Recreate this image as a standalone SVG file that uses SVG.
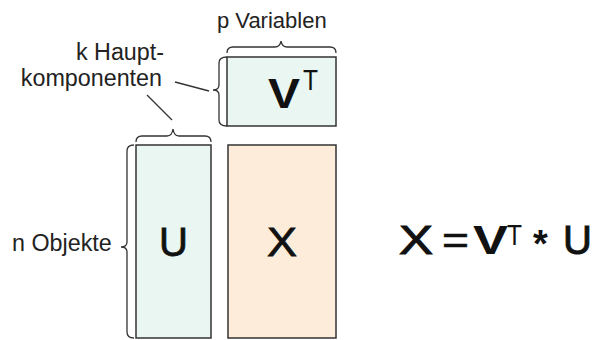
<svg xmlns="http://www.w3.org/2000/svg" width="597" height="340" viewBox="0 0 597 340">
<style>
.lbl{font-family:"Liberation Sans",Arial,sans-serif;font-size:22px;fill:#222}
.lbl2{font-size:23.3px}
.big{font-family:"Liberation Sans",Arial,sans-serif;font-size:40px;fill:#111}
.bold{font-weight:bold}
.box{stroke:#333;stroke-width:1.5}
.mint{fill:#e9f6f2}
.peach{fill:#fdecd9}
.br{fill:none;stroke:#333;stroke-width:1.3}
</style>
<rect width="597" height="340" fill="#fff"/>
<g id="vt">
<rect class="box mint" x="227" y="57" width="109" height="69"/>
<text class="big bold" x="268" y="108" style="font-size:43px" textLength="32" lengthAdjust="spacingAndGlyphs">V</text>
<text class="big" x="303" y="90" style="font-size:29px" textLength="15" lengthAdjust="spacingAndGlyphs">T</text>
</g>
<g id="u">
<rect class="box mint" x="136" y="145" width="75" height="193"/>
<text class="big" x="159" y="256" stroke="#111" stroke-width="0.8">U</text>
</g>
<g id="x">
<rect class="box peach" x="228" y="145" width="108" height="193"/>
<text class="big" x="267" y="256" textLength="30" lengthAdjust="spacingAndGlyphs" stroke="#111" stroke-width="0.8">X</text>
</g>
<g id="labels">
<text class="lbl" x="217" y="28">p Variablen</text>
<text class="lbl lbl2" x="164" y="60" text-anchor="end">k Haupt-</text>
<text class="lbl lbl2" x="162" y="86" text-anchor="end">komponenten</text>
<text class="lbl lbl2" x="12" y="251">n Objekte</text>
</g>
<g id="equation">
<text class="big" x="399" y="254" textLength="34" lengthAdjust="spacingAndGlyphs" stroke="#111" stroke-width="1">X</text>
<text class="big" x="442" y="254" textLength="27" lengthAdjust="spacingAndGlyphs" stroke="#111" stroke-width="0.6">=</text>
<text class="big bold" x="473" y="254" textLength="35" lengthAdjust="spacingAndGlyphs">V</text>
<text class="big" x="507" y="245" style="font-size:29px" textLength="15" lengthAdjust="spacingAndGlyphs">T</text>
<text class="big bold" x="533" y="257" style="font-size:38px">*</text>
<text class="big" x="563" y="254" stroke="#111" stroke-width="1">U</text>
</g>
<g id="connectors">
<path class="br" d="M136,142 Q136,136 142,136 L167,136 Q172,136 173,129 Q174,136 179,136 L205,136 Q211,136 211,142"/>
<path class="br" d="M227,53 Q227,47 233,47 L275,47 Q280,47 281,41 Q282,47 287,47 L330,47 Q336,47 336,53"/>
<path class="br" d="M227,57 Q219,57 219,63 L219,85 Q219,90 213,90 Q219,90 219,95 L219,120 Q219,126 227,126"/>
<path class="br" d="M134,145 Q127,145 127,151 L127,242 Q127,247 121,247 Q127,247 127,252 L127,332 Q127,338 134,338"/>
<line class="br" x1="175" y1="82" x2="209" y2="91"/>
<line class="br" x1="147" y1="95" x2="172" y2="120"/>
</g>
</svg>
